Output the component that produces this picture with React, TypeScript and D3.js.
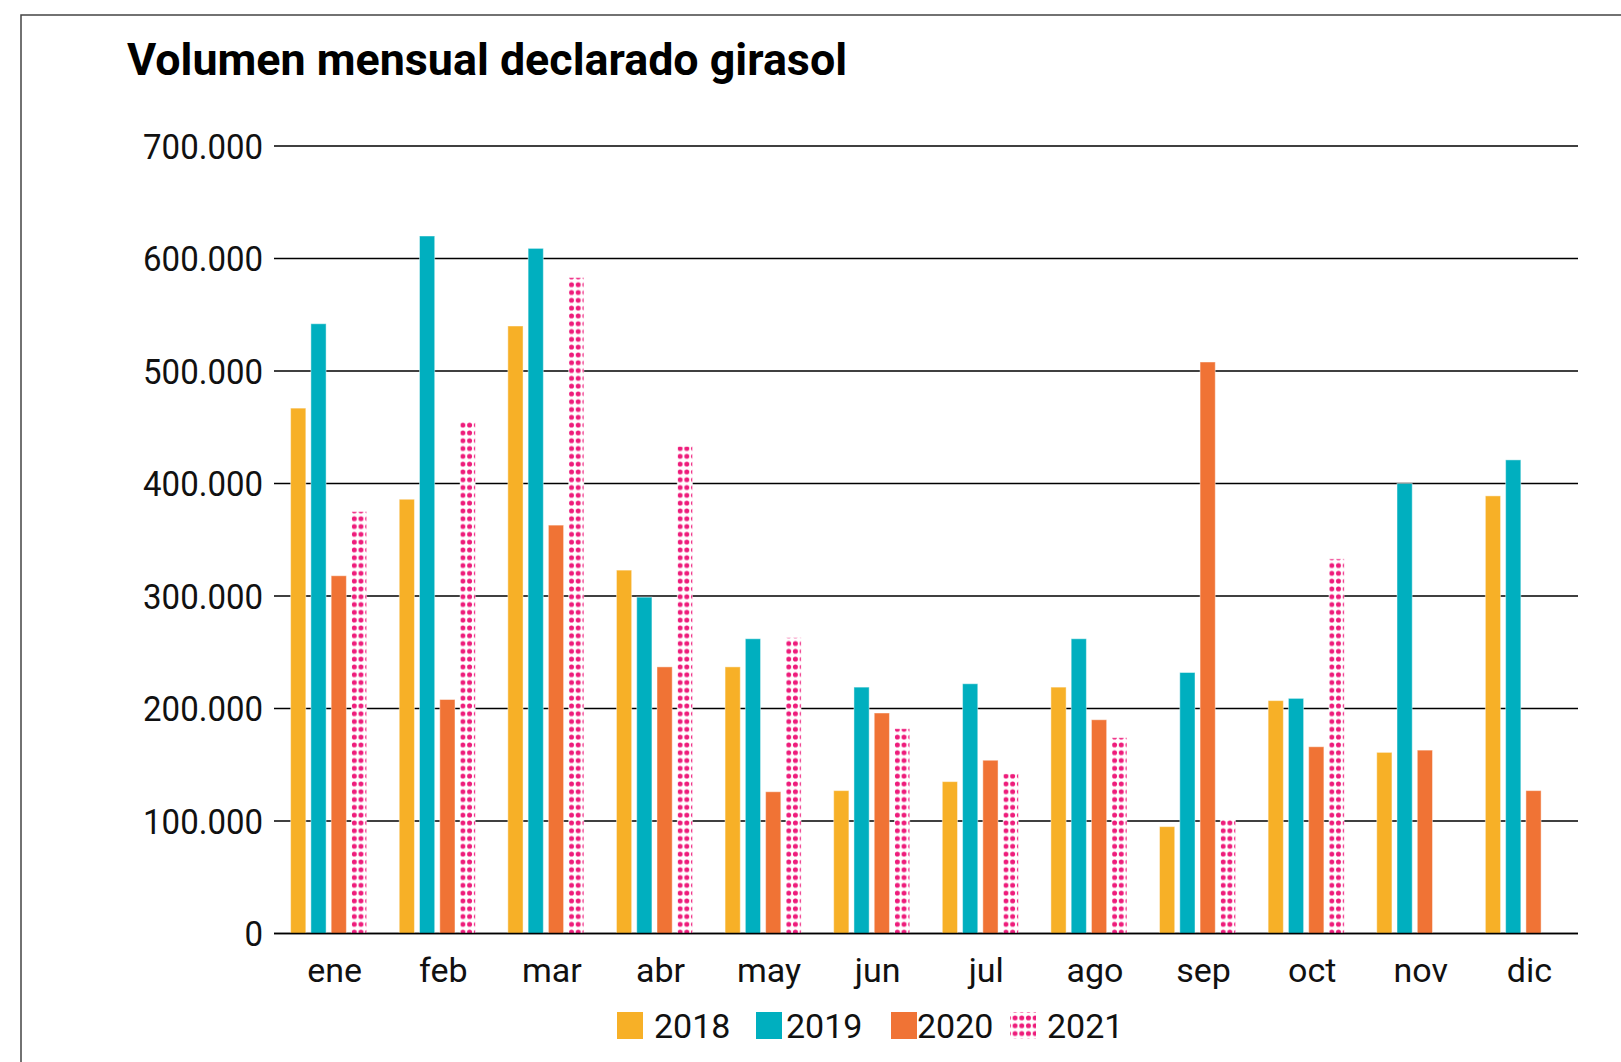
import React from 'react';
import * as d3 from 'd3';

// datos (toneladas)
const months = ['ene', 'feb', 'mar', 'abr', 'may', 'jun', 'jul', 'ago', 'sep', 'oct', 'nov', 'dic'];
const years = ['2018', '2019', '2020', '2021'];

const v2018 = [467000, 386000, 540000, 323000, 237000, 127000, 135000, 219000, 95000, 207000, 161000, 389000];
const v2019 = [542000, 620000, 609000, 299000, 262000, 219000, 222000, 262000, 232000, 209000, 400000, 421000];
const v2020 = [318000, 208000, 363000, 237000, 126000, 196000, 154000, 190000, 508000, 166000, 163000, 127000];
const v2021 = [375000, 455000, 583000, 433000, 263000, 182000, 142000, 174000, 102000, 333000, null, null];

const yTicks = [0, 100000, 200000, 300000, 400000, 500000, 600000, 700000];

const colors: Record<string, string> = {
  '2018': '#F7B027',
  '2019': '#00AFBF',
  '2020': '#F07335',
  '2021': 'url(#dots)',
};

const W = 1621;
const H = 1062;
const left = 274;
const right = 1578;
const top = 146;
const bottom = 933.5;

const fmt = (v: number) => d3.format(',')(v).replace(/,/g, '.');

const App: React.FC = () => {
  const series = [v2018, v2019, v2020, v2021];
  const x0 = d3.scaleBand<string>().domain(months).range([left, right]).paddingInner(0.3).paddingOuter(0.153);
  const x1 = d3.scaleBand<string>().domain(years).range([0, x0.bandwidth()]).paddingInner(0.25);
  const y = d3.scaleLinear().domain([0, 700000]).range([bottom, top]);

  const font = 'Roboto, "Noto Sans", sans-serif';
  // posición de la leyenda: cuadro y texto
  const legendBox = [617, 756, 891, 1010];
  const legendText = [654, 786, 917, 1047];

  return (
    <svg width={W} height={H} style={{ position: 'absolute', left: 0, top: 0 }} fontFamily={font}>
      <defs>
        <pattern id="dots" patternUnits="userSpaceOnUse" width={6.7} height={7.8}>
          <rect width={6.7} height={7.8} fill="#fff" />
          <circle cx={3.35} cy={3.9} r={2.5} fill="#EE1C7B" />
        </pattern>
      </defs>
      <rect width={W} height={H} fill="#fff" />
      <rect x={21} y={15} width={W + 10} height={H + 10} fill="none" stroke="#444" strokeWidth={1.5} />

      <text x={127} y={75} fontSize={44.8} fontWeight={700} fill="#000">
        Volumen mensual declarado girasol
      </text>

      {/* rejilla y eje Y */}
      {yTicks.map((t) => (
        <g key={t}>
          <line x1={left} x2={right} y1={y(t)} y2={y(t)} stroke="#000" strokeWidth={1.3} />
          <text
            transform={`translate(263,${y(t)}) scale(1,1.08)`}
            dy="0.36em"
            textAnchor="end"
            fontSize={33}
            fill="#111"
          >
            {fmt(t)}
          </text>
        </g>
      ))}

      {/* barras */}
      {months.map((m, i) => (
        <g key={m} transform={`translate(${x0(m)},0)`}>
          {years.map((yr, j) => {
            const v = series[j][i];
            if (v == null) return null;
            return (
              <rect
                key={yr}
                x={x1(yr)}
                y={y(v)}
                width={x1.bandwidth()}
                height={y(0) - y(v)}
                fill={colors[yr]}
                stroke="#fff"
                strokeOpacity={0.45}
                strokeWidth={1}
              />
            );
          })}
        </g>
      ))}

      <line x1={left} x2={right} y1={y(0)} y2={y(0)} stroke="#000" strokeWidth={1.4} />

      {/* eje X */}
      {months.map((m) => (
        <text key={m} x={(x0(m) ?? 0) + x0.bandwidth() / 2 + 6} y={982} textAnchor="middle" fontSize={34} fill="#111">
          {m}
        </text>
      ))}

      {/* leyenda */}
      {years.map((yr, j) => (
        <g key={yr}>
          <rect x={legendBox[j]} y={1012} width={26} height={27} fill={colors[yr]} />
          <text x={legendText[j]} y={1025.5} dy="0.36em" fontSize={34} fill="#111">
            {yr}
          </text>
        </g>
      ))}
    </svg>
  );
};

export default App;
